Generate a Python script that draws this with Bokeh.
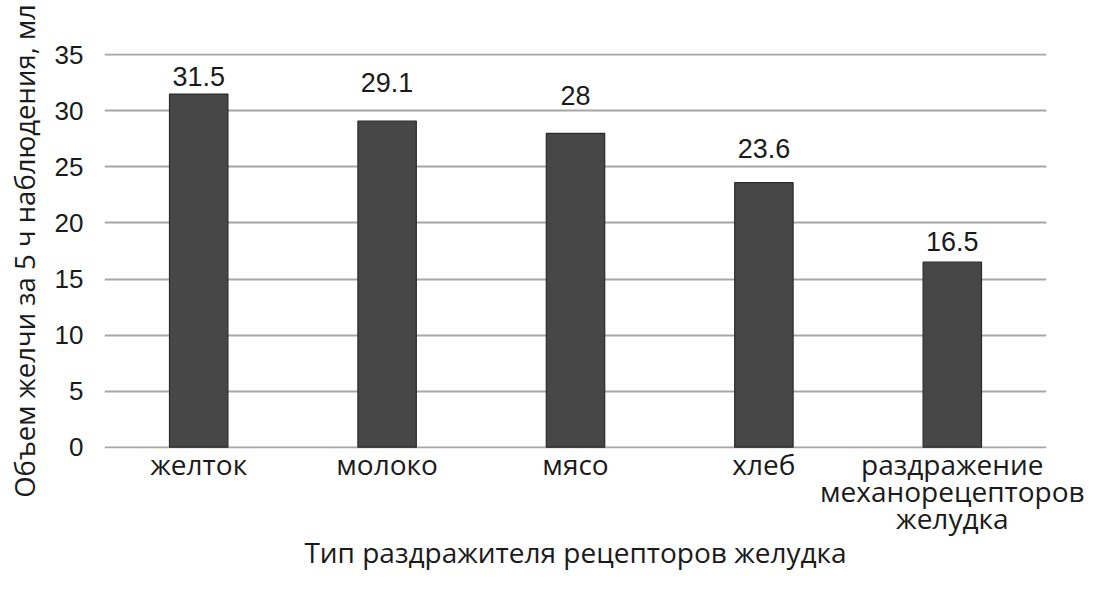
from bokeh.plotting import figure
from bokeh.models import ColumnDataSource, FactorRange, Range1d, LabelSet, FixedTicker
from bokeh.core.properties import value
from bokeh.embed import file_html
from bokeh.resources import INLINE

categories = ["желток", "молоко", "мясо", "хлеб", "раздражение\nмеханорецепторов\nжелудка"]
values = [31.5, 29.1, 28.0, 23.6, 16.5]
value_labels = ["31.5", "29.1", "28", "23.6", "16.5"]
y_ticks = [0, 5, 10, 15, 20, 25, 30, 35]
y_title = "Объем желчи за 5 ч наблюдения, мл"
x_title = "Тип раздражителя рецепторов желудка"

# style: pixel gaps between bar top and label baseline (labels were placed by hand in the original)
label_gap_px = [8, 29, 28, 25, 11]

src = ColumnDataSource(dict(cat=categories, val=values, lab=value_labels, gap=label_gap_px))

p = figure(width=1086, height=574, output_backend="svg", toolbar_location=None,
           x_range=FactorRange(*categories, range_padding=0),
           y_range=Range1d(-0.12, 35.12),
           min_border_left=104, min_border_right=40, min_border_top=53, min_border_bottom=123)
p.outline_line_color = None
p.background_fill_color = "white"

p.vbar(x="cat", top="val", width=0.31, bottom=0, source=src,
       fill_color="#474747", line_color="#2a2a2a", line_width=1.2)

labels = LabelSet(x="cat", y="val", text="lab", y_offset="gap", source=src,
                  text_align="center", text_baseline="alphabetic",
                  text_font=value("Liberation Sans"), text_font_size="27px", text_color="#1a1a1a")
p.add_layout(labels)

# grid
p.xgrid.grid_line_color = None
p.ygrid.grid_line_color = "#a6a6a6"
p.ygrid.grid_line_width = 2
p.yaxis.ticker = FixedTicker(ticks=y_ticks)

# y axis
p.yaxis.axis_line_color = None
p.yaxis.major_tick_line_color = None
p.yaxis.minor_tick_line_color = None
p.yaxis.major_label_text_font = "Liberation Sans"
p.yaxis.major_label_text_font_size = "26px"
p.yaxis.major_label_text_color = "#1a1a1a"
p.yaxis.major_label_standoff = 15
p.yaxis.axis_label = y_title
p.yaxis.axis_label_text_font = "Open Sans"
p.yaxis.axis_label_text_font_size = "27.5px"
p.yaxis.axis_label_text_font_style = "normal"
p.yaxis.axis_label_text_color = "#1a1a1a"
p.yaxis.axis_label_standoff = 9

# x axis
p.xaxis.axis_line_color = None
p.xaxis.major_tick_line_color = None
p.xaxis.minor_tick_line_color = None
p.xaxis.major_label_text_font = "Open Sans"
p.xaxis.major_label_text_font_size = "28px"
p.xaxis.major_label_text_line_height = 0.72
p.xaxis.major_label_text_color = "#1a1a1a"
p.xaxis.major_label_standoff = -10
p.xaxis.axis_label = x_title
p.xaxis.axis_label_text_font = "Open Sans"
p.xaxis.axis_label_text_font_size = "28px"
p.xaxis.axis_label_text_font_style = "normal"
p.xaxis.axis_label_text_color = "#1a1a1a"
p.xaxis.axis_label_standoff = -7

open("out.html", "w").write(file_html(p, INLINE))
